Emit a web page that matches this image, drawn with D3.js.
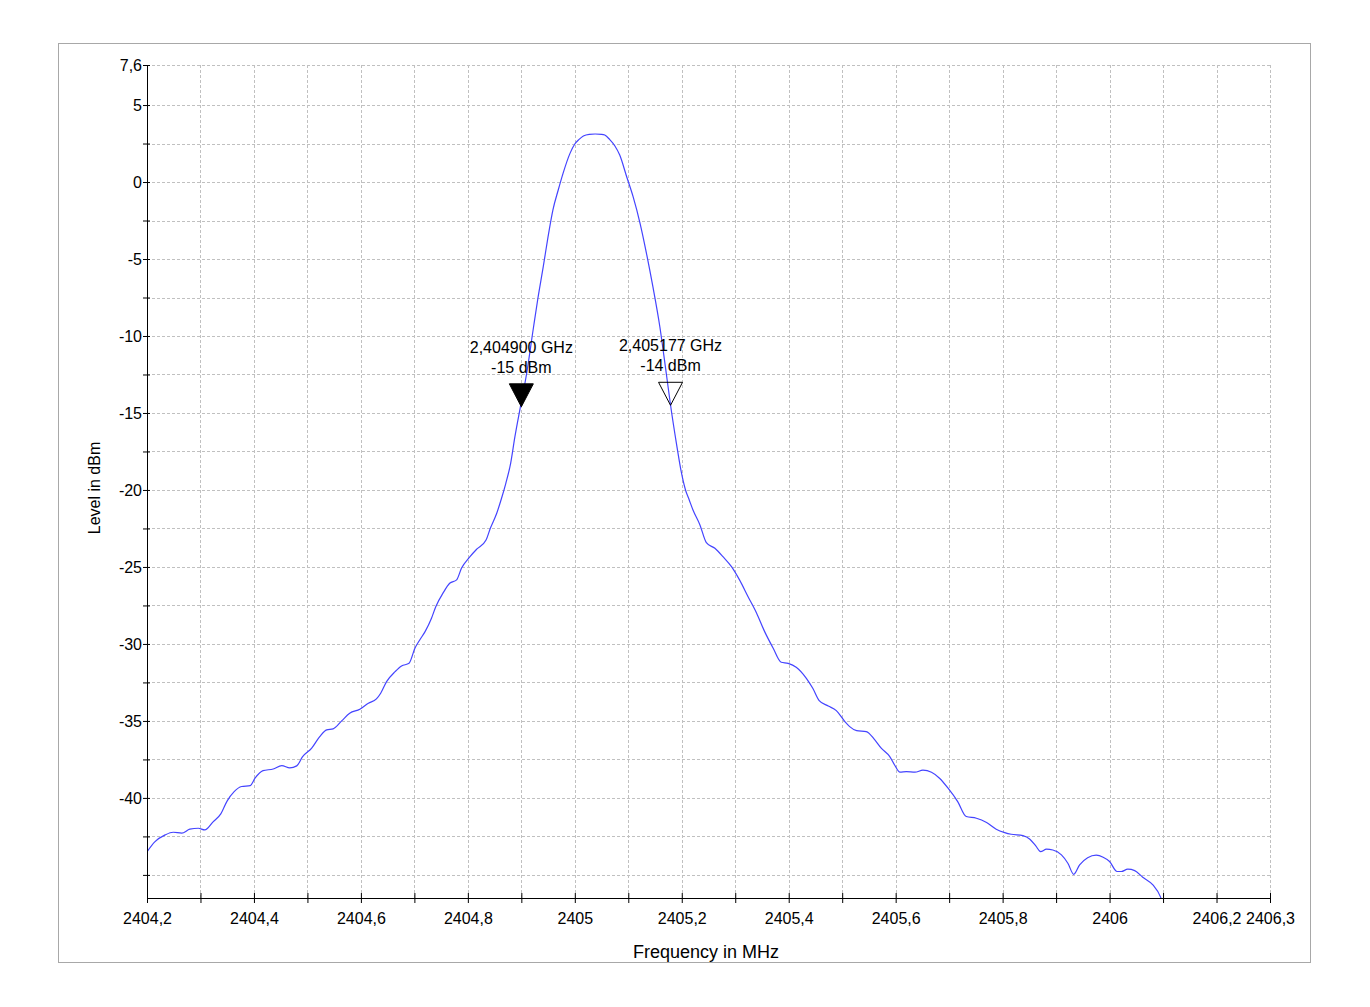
<!DOCTYPE html>
<html>
<head>
<meta charset="utf-8">
<script src="https://cdn.jsdelivr.net/npm/d3@7"></script>
<style>
  body { margin: 0; background: #fff; }
  svg { display: block; font-family: "Liberation Sans", Arial, sans-serif; }
</style>
</head>
<body>
<div class="graph"></div>
<script>
// spectrum trace
const freqMHz = [
  2404.200, 2404.215, 2404.234, 2404.249, 2404.265, 2404.280, 2404.296, 2404.308,
  2404.324, 2404.338, 2404.350, 2404.363, 2404.377, 2404.393, 2404.402, 2404.417,
  2404.436, 2404.452, 2404.467, 2404.480, 2404.491, 2404.508, 2404.523, 2404.536,
  2404.548, 2404.564, 2404.579, 2404.598, 2404.614, 2404.629, 2404.637, 2404.648,
  2404.664, 2404.676, 2404.690, 2404.701, 2404.710, 2404.720, 2404.732, 2404.740,
  2404.754, 2404.766, 2404.779, 2404.788, 2404.804, 2404.817, 2404.834, 2404.842,
  2404.854, 2404.863, 2404.871, 2404.880, 2404.888, 2404.898, 2404.910, 2404.922,
  2404.931, 2404.941, 2404.950, 2404.959, 2404.969, 2404.978, 2404.991, 2405.000,
  2405.008, 2405.016, 2405.027, 2405.038, 2405.050, 2405.056, 2405.065, 2405.075,
  2405.084, 2405.097, 2405.109, 2405.122,
  2405.134, 2405.146, 2405.159, 2405.171, 2405.179, 2405.190, 2405.199, 2405.207,
  2405.214, 2405.221, 2405.234, 2405.246, 2405.262, 2405.277, 2405.293, 2405.308,
  2405.324, 2405.340, 2405.355, 2405.371, 2405.386, 2405.399, 2405.414, 2405.433,
  2405.445, 2405.457, 2405.474, 2405.489, 2405.505, 2405.514, 2405.527, 2405.545,
  2405.561, 2405.573, 2405.589, 2405.598, 2405.608, 2405.620, 2405.636, 2405.651,
  2405.667, 2405.682, 2405.698, 2405.716, 2405.732, 2405.751, 2405.770, 2405.788,
  2405.804, 2405.816, 2405.838, 2405.851, 2405.862, 2405.871, 2405.882, 2405.894,
  2405.910, 2405.922, 2405.933, 2405.944, 2405.959, 2405.975, 2405.988, 2406.000,
  2406.014, 2406.022, 2406.034, 2406.047, 2406.062, 2406.081, 2406.095, 2406.098
]
const levelDbm = [
  -43.50, -42.84, -42.40, -42.23, -42.29, -42.03, -41.97, -42.08,
  -41.54, -41.04, -40.19, -39.59, -39.26, -39.20, -38.72, -38.23,
  -38.12, -37.90, -38.05, -37.92, -37.32, -36.77, -36.02, -35.58,
  -35.52, -35.00, -34.50, -34.24, -33.85, -33.57, -33.20, -32.45,
  -31.80, -31.43, -31.26, -30.28, -29.74, -29.20, -28.33, -27.58,
  -26.67, -26.06, -25.84, -25.09, -24.33, -23.83, -23.25, -22.49,
  -21.51, -20.54, -19.57, -18.27, -16.54, -14.65, -12.42, -9.61,
  -7.55, -5.50, -3.55, -1.82, -0.52, 0.56, 1.86, 2.47,
  2.77, 2.99, 3.10, 3.12, 3.10, 3.05, 2.77, 2.34,
  1.75, 0.34, -0.95, -2.68,
  -4.63, -6.80, -9.40, -12.42, -14.48, -16.97, -18.81, -20.00,
  -20.65, -21.30, -22.27, -23.42, -23.79, -24.33, -24.98, -25.84,
  -26.93, -28.00, -29.20, -30.28, -31.19, -31.26, -31.51, -32.23,
  -32.88, -33.68, -34.03, -34.33, -35.04, -35.37, -35.63, -35.69,
  -36.23, -36.77, -37.32, -37.86, -38.33, -38.29, -38.33, -38.20,
  -38.33, -38.72, -39.37, -40.24, -41.21, -41.32, -41.60, -42.03,
  -42.25, -42.36, -42.45, -42.68, -43.12, -43.49, -43.33, -43.38,
  -43.70, -44.24, -44.96, -44.35, -43.88, -43.72, -43.85, -44.13,
  -44.78, -44.78, -44.63, -44.72, -45.15, -45.65, -46.41, -46.70
]

// markers
const markerFreqs = [2404.900, 2405.179]
const markerLevels = [-14.6, -14.5]
const markerFilled = [true, false]
const markerFreqLabels = ["2,404900 GHz", "2,405177 GHz"]
const markerLevelLabels = ["-15 dBm", "-14 dBm"]

// axes
const xDomain = [2404.2, 2406.3]
const yDomain = [-46.5, 7.6]
const xTicks = d3.range(0, 22).map(i => 2404.2 + i * 0.1)
const xLabelled = [2404.2, 2404.4, 2404.6, 2404.8, 2405, 2405.2, 2405.4, 2405.6, 2405.8, 2406, 2406.2, 2406.3]
const yTicks = [7.6].concat(d3.range(0, 21).map(i => 5 - i * 2.5))
const yLabelled = [7.6, 5, 0, -5, -10, -15, -20, -25, -30, -35, -40]

const width = 1370, height = 1007
const plot = {left: 147, right: 1270, top: 65, bottom: 898}

const comma = v => String(+v.toFixed(1)).replace(".", ",")
const near = (list, v) => list.some(t => Math.abs(t - v) < 1e-6)

const svg = d3.select(".graph").append("svg")
    .attr("width", width)
    .attr("height", height)

svg.append("rect")
    .attr("width", "100%")
    .attr("height", "100%")
    .style("fill", "#fff")

const defs = svg.append("defs")
defs.append("clipPath").attr("id", "frame-clip")
    .append("rect").attr("x", 59).attr("y", 44).attr("width", 1251).attr("height", 918)
defs.append("clipPath").attr("id", "plot-clip")
    .append("rect")
    .attr("x", plot.left).attr("y", plot.top)
    .attr("width", plot.right - plot.left).attr("height", plot.bottom - plot.top)

const scaleX = d3.scaleLinear().domain(xDomain).range([plot.left, plot.right])
const scaleY = d3.scaleLinear().domain(yDomain).range([plot.bottom, plot.top])

// grid
const grid = svg.append("g")
    .attr("stroke", "#c0c0c0")
    .attr("stroke-dasharray", "3,2")
    .attr("shape-rendering", "crispEdges")

grid.selectAll(".vgrid")
    .data(xTicks.slice(1))
    .join("line")
    .attr("x1", d => Math.round(scaleX(d)) + 0.5)
    .attr("x2", d => Math.round(scaleX(d)) + 0.5)
    .attr("y1", plot.top)
    .attr("y2", plot.bottom)

grid.selectAll(".hgrid")
    .data(yTicks)
    .join("line")
    .attr("x1", plot.left)
    .attr("x2", plot.right)
    .attr("y1", d => Math.round(scaleY(d)) + 0.5)
    .attr("y2", d => Math.round(scaleY(d)) + 0.5)

// trace
const line = d3.line()
    .x((d, i) => scaleX(freqMHz[i]))
    .y(d => scaleY(d))
    .curve(d3.curveMonotoneX)

svg.append("path")
    .attr("clip-path", "url(#plot-clip)")
    .attr("d", line(levelDbm))
    .attr("fill", "none")
    .attr("stroke", "#4444ff")
    .attr("stroke-width", 1.2)

// axes
const xAxis = g => g
    .attr("transform", `translate(0, ${plot.bottom})`)
    .call(d3.axisBottom(scaleX)
        .tickValues(xTicks)
        .tickSize(5)
        .tickPadding(10)
        .tickSizeOuter(0)
        .tickFormat(d => near(xLabelled, d) ? comma(d) : ""))
    .call(g => g.selectAll(".tick line").attr("y1", -5).attr("y2", 5))
    .call(g => g.select(".domain").attr("d", `M${plot.left},0.5H${plot.right}`))

const yAxis = g => g
    .attr("transform", `translate(${plot.left}, 0)`)
    .call(d3.axisLeft(scaleY)
        .tickValues(yTicks)
        .tickSize(4)
        .tickPadding(1)
        .tickSizeOuter(0)
        .tickFormat(d => near(yLabelled, d) ? comma(d) : ""))
    .call(g => g.selectAll(".tick line").attr("x1", 3).attr("x2", -4))
    .call(g => g.select(".domain").attr("d", `M0.5,${plot.top}V${plot.bottom}`))

svg.append("g")
    .call(xAxis)
    .style("font-size", "16px")
    .style("font-family", "Liberation Sans, Arial, sans-serif")

svg.append("g")
    .call(yAxis)
    .style("font-size", "16px")
    .style("font-family", "Liberation Sans, Arial, sans-serif")

svg.selectAll(".tick text").attr("fill", "#000")
svg.selectAll(".domain, .tick line").attr("stroke", "#000")

// markers
const markers = svg.append("g")
markerFreqs.forEach((f, i) => {
    const mx = scaleX(f), my = scaleY(markerLevels[i])
    markers.append("path")
        .attr("d", `M${mx},${my}L${mx - 12},${my - 23}H${mx + 12}Z`)
        .attr("fill", markerFilled[i] ? "#000" : "#fff")
        .attr("fill-opacity", markerFilled[i] ? 1 : 0)
        .attr("stroke", "#000")
        .attr("stroke-width", 1)
    markers.append("text")
        .attr("x", mx)
        .attr("y", my - 54)
        .attr("text-anchor", "middle")
        .style("font-size", "16px")
        .text(markerFreqLabels[i])
    markers.append("text")
        .attr("x", mx)
        .attr("y", my - 34)
        .attr("text-anchor", "middle")
        .style("font-size", "16px")
        .text(markerLevelLabels[i])
})

// axis titles
svg.append("text")
    .attr("transform", "translate(100, 488) rotate(-90)")
    .attr("text-anchor", "middle")
    .style("font-size", "16px")
    .text("Level in dBm")

svg.append("text")
    .attr("clip-path", "url(#frame-clip)")
    .attr("x", 706)
    .attr("y", 958)
    .attr("text-anchor", "middle")
    .style("font-size", "18px")
    .text("Frequency in MHz")

// outer frame
svg.append("rect")
    .attr("x", 58.5)
    .attr("y", 43.5)
    .attr("width", 1252)
    .attr("height", 919)
    .attr("fill", "none")
    .attr("stroke", "#a8a8a8")
    .attr("stroke-width", 1)
</script>
</body>
</html>
